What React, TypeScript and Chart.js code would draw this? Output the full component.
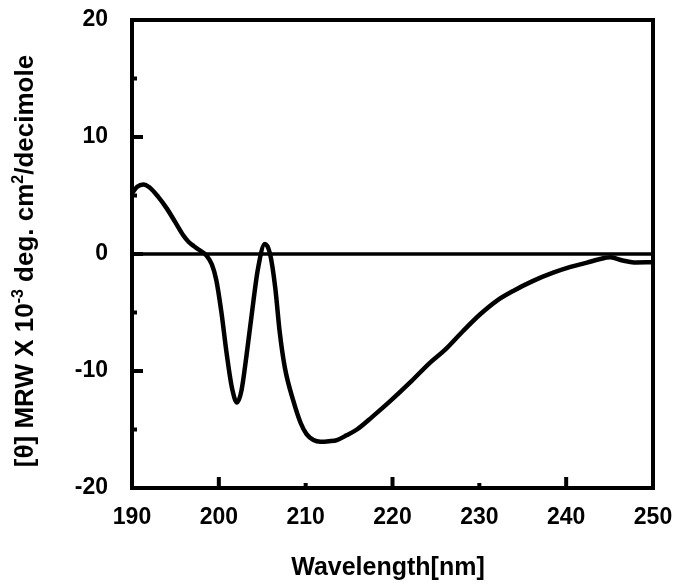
import { useEffect, useRef } from "react";
import { Chart, registerables } from "chart.js";

Chart.register(...registerables);

// Wavelength (nm) and mean residue ellipticity [θ] MRW x 10^-3
const wavelengths = [
  190.0, 190.6, 191.3, 192.0, 193.0, 194.0, 195.0, 195.9, 196.5, 197.1,
  197.8, 198.6, 199.2, 199.7, 200.3, 200.9, 201.5, 202.1, 202.6, 203.2,
  203.8, 204.5, 205.3, 205.9, 206.5, 207.0, 207.6, 208.6, 209.4, 210.1,
  210.9, 211.7, 212.7, 213.6, 214.7, 215.9, 217.7, 219.7, 222.0, 224.3,
  226.1, 228.1, 230.1, 232.0, 233.9, 236.2, 238.5, 240.5, 242.4, 243.8,
  245.1, 246.5, 247.8, 250.0,
];
const ellipticity = [
  5.2, 5.75, 5.95, 5.7, 4.9, 3.9, 2.7, 1.6, 1.05, 0.68,
  0.32, -0.15, -0.9, -2.2, -5.0, -8.5, -11.4, -12.7, -11.7, -8.6,
  -5.1, -1.3, 0.85, 0.0, -2.9, -6.6, -9.7, -12.6, -14.4, -15.4,
  -15.9, -16.05, -16.0, -15.9, -15.5, -15.0, -13.9, -12.6, -11.0, -9.3,
  -8.15, -6.6, -5.15, -4.0, -3.16, -2.3, -1.6, -1.1, -0.74, -0.45,
  -0.28, -0.55, -0.72, -0.7,
];

const zeroLineX = [190, 250];
const zeroLineY = [0, 0];

const xMajorTicks = [200, 220, 240];
const xMinorTicks = [210, 230];
const yMajorTicks = [-10, 0, 10];
const yMinorTicks = [-15, -5, 5, 15];

const xTitle = "Wavelength[nm]";
const yTitleParts = [
  { text: "[θ] MRW X 10", sup: false },
  { text: "-3", sup: true },
  { text: " deg. cm", sup: false },
  { text: "2", sup: true },
  { text: "/decimole", sup: false },
];

const FONT = "'Liberation Sans', Arial, sans-serif";

// target plot frame inside the 678x584 canvas
const AREA = { left: 132, top: 20, right: 653, bottom: 488 };

const framePlugin = {
  id: "frameAndTitles",
  afterDatasetsDraw(chart: any) {
    const { ctx, chartArea } = chart;
    const { left, right, top, bottom } = chartArea;
    const xs = chart.scales.x;
    const ys = chart.scales.y;
    ctx.save();
    ctx.strokeStyle = "#000";
    ctx.lineWidth = 4;
    ctx.lineCap = "butt";
    ctx.strokeRect(left, top, right - left, bottom - top);

    const drawX = (vals: number[], len: number) => {
      vals.forEach((v) => {
        const px = xs.getPixelForValue(v);
        ctx.beginPath();
        ctx.moveTo(px, bottom);
        ctx.lineTo(px, bottom - len);
        ctx.stroke();
      });
    };
    const drawY = (vals: number[], len: number) => {
      vals.forEach((v) => {
        const py = ys.getPixelForValue(v);
        ctx.beginPath();
        ctx.moveTo(left, py);
        ctx.lineTo(left + len, py);
        ctx.stroke();
      });
    };
    drawX(xMajorTicks, 11);
    drawX(xMinorTicks, 5);
    drawY(yMajorTicks, 11);
    drawY(yMinorTicks, 5);

    // x title
    ctx.fillStyle = "#000";
    ctx.font = `bold 25px ${FONT}`;
    ctx.textAlign = "center";
    ctx.textBaseline = "alphabetic";
    ctx.fillText(xTitle, 388, 575);

    // y title with superscripts
    const mainFont = `bold 26px ${FONT}`;
    const supFont = `bold 16px ${FONT}`;
    let total = 0;
    const widths = yTitleParts.map((p) => {
      ctx.font = p.sup ? supFont : mainFont;
      const w = ctx.measureText(p.text).width;
      total += w;
      return w;
    });
    ctx.translate(33, 261);
    ctx.rotate(-Math.PI / 2);
    ctx.textAlign = "left";
    let cx = -total / 2;
    yTitleParts.forEach((p, i) => {
      ctx.font = p.sup ? supFont : mainFont;
      ctx.fillText(p.text, cx, p.sup ? -10 : 0);
      cx += widths[i];
    });
    ctx.restore();
  },
};

export default function App() {
  const canvasRef = useRef<HTMLCanvasElement | null>(null);

  useEffect(() => {
    if (!canvasRef.current) return;
    const curve = wavelengths.map((w, i) => ({ x: w, y: ellipticity[i] }));
    const zero = zeroLineX.map((w, i) => ({ x: w, y: zeroLineY[i] }));
    const tickFont = { family: FONT, size: 23, weight: "bold" as const };
    const padding = { top: AREA.top, right: 678 - AREA.right, left: 0, bottom: 0 };
    const chart = new Chart(canvasRef.current, {
      type: "line",
      data: {
        datasets: [
          {
            data: zero,
            borderColor: "#000",
            borderWidth: 3.5,
            pointRadius: 0,
            fill: false,
          },
          {
            data: curve,
            borderColor: "#000",
            borderWidth: 4.5,
            pointRadius: 0,
            fill: false,
            cubicInterpolationMode: "monotone",
          },
        ],
      },
      options: {
        responsive: false,
        animation: false,
        events: [],
        layout: { padding },
        plugins: {
          legend: { display: false },
          tooltip: { enabled: false },
          title: { display: false },
        },
        scales: {
          x: {
            type: "linear",
            min: 190,
            max: 250,
            grid: { display: false, drawTicks: false },
            border: { display: false },
            ticks: {
              stepSize: 10,
              color: "#000",
              font: tickFont,
              padding: 16,
              maxRotation: 0,
            },
            afterFit: (scale: any) => {
              scale.height = 584 - AREA.bottom;
              scale.paddingLeft = 0;
              scale.paddingRight = 0;
              scale.paddingTop = 0;
              scale.paddingBottom = 0;
            },
          },
          y: {
            type: "linear",
            min: -20,
            max: 20,
            grid: { display: false, drawTicks: false },
            border: { display: false },
            ticks: {
              stepSize: 10,
              color: "#000",
              font: tickFont,
              padding: 24,
            },
            afterFit: (scale: any) => {
              scale.width = AREA.left;
              scale.paddingLeft = 0;
              scale.paddingRight = 0;
              scale.paddingTop = 0;
              scale.paddingBottom = 0;
            },
          },
        },
      },
      plugins: [framePlugin],
    });
    // fine-tune layout padding so the plot frame sits where it does in the reference
    for (let i = 0; i < 3; i++) {
      const ca = chart.chartArea;
      const dTop = ca.top - AREA.top;
      const dRight = ca.right - AREA.right;
      const dLeft = ca.left - AREA.left;
      const dBottom = ca.bottom - AREA.bottom;
      if (Math.abs(dTop) < 0.5 && Math.abs(dRight) < 0.5 && Math.abs(dLeft) < 0.5 && Math.abs(dBottom) < 0.5) break;
      padding.top = Math.max(0, padding.top - dTop);
      padding.right = Math.max(0, padding.right + dRight);
      padding.left = Math.max(0, padding.left - dLeft);
      padding.bottom = Math.max(0, padding.bottom + dBottom);
      (chart.options as any).layout.padding = { ...padding };
      chart.update();
    }
    return () => chart.destroy();
  }, []);

  return (
    <div style={{ position: "fixed", left: 0, top: 0, width: 678, height: 584, background: "#fff" }}>
      <canvas ref={canvasRef} width={678} height={584} style={{ width: 678, height: 584 }} />
    </div>
  );
}
